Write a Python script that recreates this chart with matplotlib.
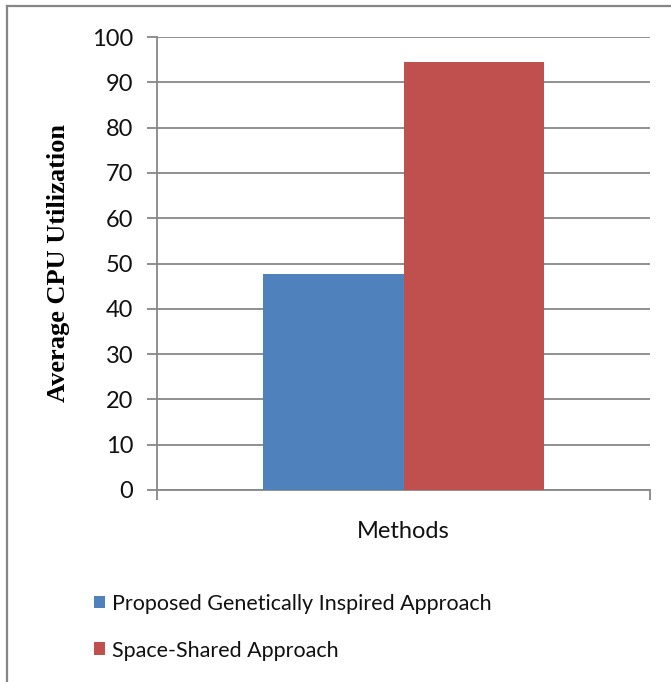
import matplotlib
matplotlib.use("Agg")
import matplotlib.pyplot as plt
from matplotlib.lines import Line2D
import numpy as np

categories = ["Methods"]
series_names = ["Proposed Genetically Inspired Approach", "Space-Shared Approach"]
series_values = [[47.6], [94.4]]
series_colors = ["#4F81BD", "#C0504D"]
y_ticks = [0, 10, 20, 30, 40, 50, 60, 70, 80, 90, 100]

plt.rcParams.update({
    "font.family": ["Lato", "DejaVu Sans"],
    "font.size": 15,
})

W, H = 671, 682
fig = plt.figure(figsize=(W / 100, H / 100), dpi=100)
ax = fig.add_axes([157 / W, 1 - 490 / H, (650 - 157) / W, (490 - 37) / H])

grid_c = "#878787"
txt_c = "#111111"
bar_w = 0.286
x = np.arange(len(categories))
for i, (name, vals, col) in enumerate(zip(series_names, series_values, series_colors)):
    ax.bar(x + (i - 0.5) * bar_w, vals, width=bar_w, color=col, label=name, zorder=3)

ax.set_xlim(-0.5, 0.5)
ax.set_ylim(0, 100)
ax.set_yticks(y_ticks)
ax.yaxis.grid(True, color=grid_c, linewidth=1.3, zorder=0)
ax.set_axisbelow(True)

for s in ["top", "right"]:
    ax.spines[s].set_visible(False)
for s in ["left", "bottom"]:
    ax.spines[s].set_color(grid_c)
    ax.spines[s].set_linewidth(1.3)

ax.tick_params(axis="y", direction="out", length=7, width=1.3, color=grid_c,
               labelsize=17, labelcolor=txt_c, pad=10)
ax.set_xticks(x)
ax.set_xticklabels(categories)
ax.tick_params(axis="x", which="major", length=0, labelsize=17,
               labelcolor=txt_c, pad=22)
ax.set_xticks([-0.5, 0.5], minor=True)
ax.tick_params(axis="x", which="minor", direction="out", length=7, width=1.3,
               color=grid_c)

ax.set_ylabel("Average CPU Utilization", family=["Liberation Serif"],
              fontweight="bold", fontsize=19, labelpad=16, color="black")

fig.legend(loc="upper left", bbox_to_anchor=(85 / W, 1 - 585 / H),
           frameon=False, fontsize=15.5, handlelength=0.55, handleheight=0.55,
           handletextpad=0.3, labelspacing=1.25, borderaxespad=0,
           labelcolor=txt_c)

# outer chart border (only top and left edges visible in the crop)
fig.add_artist(Line2D([7 / W, 1], [1 - 6 / H, 1 - 6 / H], transform=fig.transFigure,
                      color="#868686", linewidth=1.6))
fig.add_artist(Line2D([7 / W, 7 / W], [0, 1 - 6 / H], transform=fig.transFigure,
                      color="#868686", linewidth=1.6))

fig.savefig("out.png", dpi=100)
